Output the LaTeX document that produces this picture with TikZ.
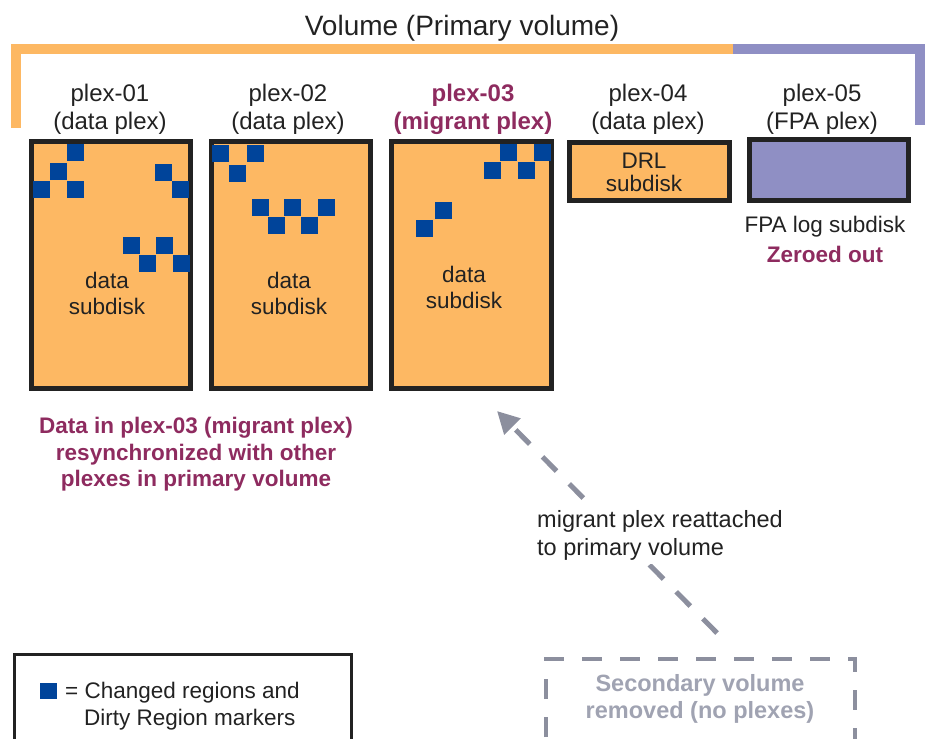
\documentclass[tikz,border=0pt]{standalone}
\usepackage{fontspec}
\setmainfont{Liberation Sans}
\usetikzlibrary{arrows.meta}
\definecolor{plexOrange}{HTML}{FDB863}
\definecolor{fpaLilac}{HTML}{8F8FC4}
\definecolor{dirtyBlue}{HTML}{00449A}
\definecolor{noteMaroon}{HTML}{8E2B5F}
\definecolor{ghostGray}{HTML}{8C8F9E}
\definecolor{ghostText}{HTML}{A0A3B2}
\definecolor{inkDark}{HTML}{222222}

\begin{document}
\begin{tikzpicture}[x=1pt, y=-1pt, >={Triangle[length=22pt, width=22pt]},
      every node/.style={inner sep=0pt, text=inkDark},
      lbl/.style={anchor=base, font=\fontsize{24}{28}\selectfont},
      lblbold/.style={anchor=base, font=\fontsize{24}{28}\selectfont\bfseries, text=noteMaroon},
      txt/.style={anchor=base, font=\fontsize{22.5}{27}\selectfont},
      note/.style={anchor=base, font=\fontsize{22.5}{27}\selectfont\bfseries, text=noteMaroon},
      ghost/.style={anchor=base, font=\fontsize{23.5}{28}\selectfont\bfseries, text=ghostText},
      sd/.style={draw=inkDark, line width=5pt, fill=plexOrange, inner sep=0pt},
      dirty/.style={fill=dirtyBlue}]
    \useasboundingbox (0,0) rectangle (925,738);
    % ---- primary volume bracket
    \node[anchor=base, font=\fontsize{28}{32}\selectfont] (vol) at (462,36) {Volume (Primary volume)};
    \draw[plexOrange, line width=10pt] (16,128) -- (16,49) -- (733,49);
    \draw[fpaLilac, line width=10pt] (733,49) -- (920,49) -- (920,125);
    % ---- plex labels
    \foreach \i/\x/\t in {01/110/data plex, 02/288/data plex, 04/648/data plex, 05/822/FPA plex} {
      \node[lbl] (p\i) at (\x,102) {plex-\i};
      \node[lbl] (q\i) at (\x,130) {(\t)};
    }
    \node[lblbold] (p03) at (473,102) {plex-03};
    \node[lblbold] (q03) at (473,130) {(migrant plex)};
    % ---- subdisks
    \node[sd, minimum width=159pt, minimum height=246.5pt] (sd1) at (111,265) {};
    \node[sd, minimum width=159pt, minimum height=246.5pt] (sd2) at (291,265) {};
    \node[sd, minimum width=160pt, minimum height=246.5pt] (sd3) at (471.5,265) {};
    \node[sd, minimum width=160pt, minimum height=58pt] (sd4) at (649.5,171.5) {};
    \node[sd, fill=fpaLilac, minimum width=159pt, minimum height=61pt] (sd5) at (829,170) {};
    \foreach \k/\x/\y in {1/107/288, 2/289/288, 3/464/282} {
      \node[txt] (d\k) at (\x,\y) {data};
      \node[txt] (s\k) at (\x,\y+26) {subdisk};
    }
    \node[txt] (drl) at (644,168) {DRL};
    \node[txt] (drls) at (644,191) {subdisk};
    \node[txt] (fpal) at (825,232) {FPA log subdisk};
    \node[note] (zero) at (825,262) {Zeroed out};
    % ---- changed regions
    \foreach \x/\y in {67/144, 50/163, 33/181, 67/181, 155/164, 172/181, 123/237, 156/237, 139/255, 173/255,
                       212/145, 247/145, 229/165, 252/199, 284/199, 318/199, 268/217, 301/217,
                       500/144, 534/144, 484/162, 518/162, 435/202, 416/220}
      \fill[dirty] (\x,\y) rectangle ++(17,17);
    % ---- resync note
    \node[note] (n1) at (196,433) {Data in plex-03 (migrant plex)};
    \node[note] (n2) at (196,460) {resynchronized with other};
    \node[note] (n3) at (196,486) {plexes in primary volume};
    % ---- reattach
    \coordinate (mfrom) at (717,633);
    \coordinate (mto) at (497,411);
    \draw[->, ghostGray, line width=5pt, dash pattern=on 20pt off 18pt] (mfrom) -- (mto);
    \node[txt, anchor=base west, fill=white, inner sep=4pt, font=\fontsize{23.5}{28}\selectfont] (m1) at (533,527) {migrant plex reattached};
    \node[txt, anchor=base west, fill=white, inner sep=4pt, font=\fontsize{23.5}{28}\selectfont] (m2) at (533,555) {to primary volume};
    % ---- key
    \draw[inkDark, line width=2.5pt] (14.5,760) -- (14.5,654.5) -- (351.5,654.5) -- (351.5,760);
    \fill[dirty] (40,683) rectangle (57,699);
    \node[txt, anchor=base west] (key1) at (65,698) {= Changed regions and};
    \node[txt, anchor=base west] (key2) at (84,725) {Dirty Region markers};
    % ---- secondary volume
    \draw[ghostGray, line width=4pt, dash pattern=on 20pt off 18pt, dash phase=15pt] (546,760) -- (546,659) -- (855,659) -- (855,760);
    \node[ghost] (sec1) at (700,691) {Secondary volume};
    \node[ghost] (sec2) at (700,718) {removed (no plexes)};
  \end{tikzpicture}
\end{document}
